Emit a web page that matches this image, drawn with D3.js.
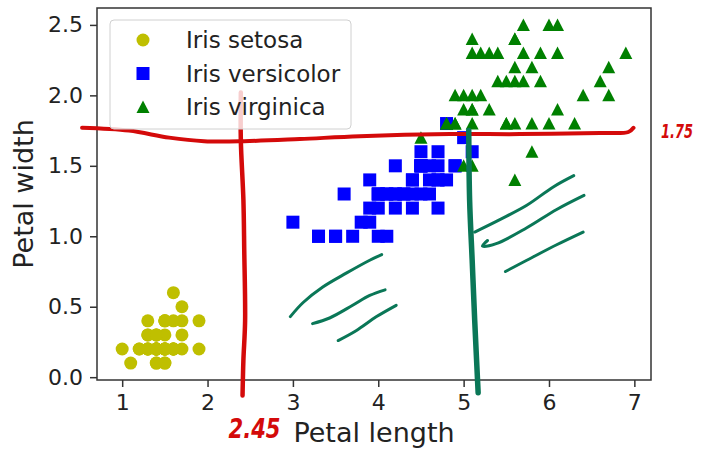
<!DOCTYPE html>
<html>
<head>
<meta charset="utf-8">
<script src="https://cdn.jsdelivr.net/npm/d3@7"></script>
<style>
  body { margin: 0; background: #fff; }
  text { font-family: "DejaVu Sans", sans-serif; }
</style>
</head>
<body>
<div id="chart"></div>
<script>
// petal [length, width] for each species (iris dataset)
var setosa = [[1.4,0.2],[1.4,0.2],[1.3,0.2],[1.5,0.2],[1.4,0.2],[1.7,0.4],[1.4,0.3],[1.5,0.2],[1.4,0.2],[1.5,0.1],
  [1.5,0.2],[1.6,0.2],[1.4,0.1],[1.1,0.1],[1.2,0.2],[1.5,0.4],[1.3,0.4],[1.4,0.3],[1.7,0.3],[1.5,0.3],
  [1.7,0.2],[1.5,0.4],[1.0,0.2],[1.7,0.5],[1.9,0.2],[1.6,0.2],[1.6,0.4],[1.5,0.2],[1.4,0.2],[1.6,0.2],
  [1.6,0.2],[1.5,0.4],[1.5,0.1],[1.4,0.2],[1.5,0.2],[1.2,0.2],[1.3,0.2],[1.4,0.1],[1.3,0.2],[1.5,0.2],
  [1.3,0.3],[1.3,0.3],[1.3,0.2],[1.6,0.6],[1.9,0.4],[1.4,0.3],[1.6,0.2],[1.4,0.2],[1.5,0.2],[1.4,0.2]];
var versicolor = [[4.7,1.4],[4.5,1.5],[4.9,1.5],[4.0,1.3],[4.6,1.5],[4.5,1.3],[4.7,1.6],[3.3,1.0],[4.6,1.3],[3.9,1.4],
  [3.5,1.0],[4.2,1.5],[4.0,1.0],[4.7,1.4],[3.6,1.3],[4.4,1.4],[4.5,1.5],[4.1,1.0],[4.5,1.5],[3.9,1.1],
  [4.8,1.8],[4.0,1.3],[4.9,1.5],[4.7,1.2],[4.3,1.3],[4.4,1.4],[4.8,1.4],[5.0,1.7],[4.5,1.5],[3.5,1.0],
  [3.8,1.1],[3.7,1.0],[3.9,1.2],[5.1,1.6],[4.5,1.5],[4.5,1.6],[4.7,1.5],[4.4,1.3],[4.1,1.3],[4.0,1.3],
  [4.4,1.2],[4.6,1.4],[4.0,1.2],[3.3,1.0],[4.2,1.3],[4.2,1.2],[4.2,1.3],[4.3,1.3],[3.0,1.1],[4.1,1.3]];
var virginica = [[6.0,2.5],[5.1,1.9],[5.9,2.1],[5.6,1.8],[5.8,2.2],[6.6,2.1],[4.5,1.7],[6.3,1.8],[5.8,1.8],[6.1,2.5],
  [5.1,2.0],[5.3,1.9],[5.5,2.1],[5.0,2.0],[5.1,2.4],[5.3,2.3],[5.5,1.8],[6.7,2.2],[6.9,2.3],[5.0,1.5],
  [5.7,2.3],[4.9,2.0],[6.7,2.0],[4.9,1.8],[5.7,2.1],[6.0,1.8],[4.8,1.8],[4.9,1.8],[5.6,2.1],[5.8,1.6],
  [6.1,1.9],[6.4,2.0],[5.6,2.2],[5.1,1.5],[5.6,1.4],[6.1,2.3],[5.6,2.4],[5.5,1.8],[4.8,1.8],[5.4,2.1],
  [5.6,2.4],[5.1,2.3],[5.1,1.9],[5.9,2.3],[5.7,2.5],[5.2,2.3],[5.0,1.9],[5.2,2.0],[5.4,2.3],[5.1,1.8]];

var speciesNames = ["Iris setosa", "Iris versicolor", "Iris virginica"];
var xTicks = [1, 2, 3, 4, 5, 6, 7];
var yTicks = [0.0, 0.5, 1.0, 1.5, 2.0, 2.5];

// hand-drawn annotations, in data units (petal length, petal width)
var redHorizontal = [[0.53,1.77],[1.08,1.75],[1.55,1.70],[1.96,1.675],[2.43,1.675],[3.08,1.69],[3.78,1.71],
  [4.84,1.725],[5.66,1.725],[6.60,1.733],[6.93,1.74],[6.99,1.77]];
var redVertical = [[2.39,2.02],[2.39,1.68],[2.42,1.26],[2.43,0.90],[2.44,0.40],[2.42,0.12],[2.41,-0.13]];
var greenVertical = [[5.06,1.75],[5.07,1.26],[5.10,0.83],[5.13,0.40],[5.17,-0.11]];
var greenHatch = [
  [[2.97,0.43],[3.12,0.53],[3.35,0.64],[3.63,0.74],[3.90,0.83],[4.04,0.87]],
  [[3.23,0.38],[3.43,0.42],[3.70,0.51],[3.90,0.58],[4.08,0.62]],
  [[3.53,0.26],[3.74,0.33],[3.98,0.43],[4.21,0.51]],
  [[5.13,1.03],[5.43,1.12],[5.74,1.22],[6.05,1.35],[6.29,1.43]],
  [[5.28,0.97],[5.22,0.93],[5.39,0.95],[5.74,1.06],[6.09,1.19],[6.41,1.29]],
  [[5.49,0.75],[5.74,0.83],[6.09,0.94],[6.40,1.03]]
];
var notes = [{text: "1.75", x: 7.50, y: 1.70, size: 20, len: 32}, {text: "2.45", x: 2.55, y: -0.43, size: 26, len: 52}];

var width = 710, height = 451;
var margin = {top: 8, right: 59, bottom: 71, left: 97};
var w = width - margin.left - margin.right,
    h = height - margin.top - margin.bottom;

var svg = d3.select("#chart").append("svg")
    .attr("width", width)
    .attr("height", height);

var g = svg.append("g")
    .attr("transform", "translate(" + margin.left + "," + margin.top + ")");

var x = d3.scaleLinear().domain([0.705, 7.195]).range([0, w]);
var y = d3.scaleLinear().domain([-0.02, 2.62]).range([h, 0]);

// axes
var xAxis = g.append("g")
    .attr("transform", "translate(0," + h + ")")
    .call(d3.axisBottom(x).tickValues(xTicks).tickFormat(d3.format("d")).tickSize(7).tickPadding(7));
var yAxis = g.append("g")
    .call(d3.axisLeft(y).tickValues(yTicks).tickFormat(d3.format(".1f")).tickSize(7).tickPadding(7));

[xAxis, yAxis].forEach(function(ax) {
    ax.select(".domain").remove();
    ax.selectAll("line").attr("stroke", "#333").attr("stroke-width", 1.5);
    ax.selectAll("text").attr("font-size", 22).attr("fill", "#222")
        .attr("font-family", "DejaVu Sans, sans-serif");
});

// points
g.selectAll(".setosa").data(setosa).enter().append("circle")
    .attr("cx", function(d) { return x(d[0]); })
    .attr("cy", function(d) { return y(d[1]); })
    .attr("r", 6.5)
    .attr("fill", "#bfbf00");

var sq = 13;
g.selectAll(".versicolor").data(versicolor).enter().append("rect")
    .attr("x", function(d) { return x(d[0]) - sq / 2; })
    .attr("y", function(d) { return y(d[1]) - sq / 2; })
    .attr("width", sq)
    .attr("height", sq)
    .attr("fill", "#0000ff");

var tri = "M0,-6.5L6.5,6L-6.5,6Z";
g.selectAll(".virginica").data(virginica).enter().append("path")
    .attr("d", tri)
    .attr("transform", function(d) { return "translate(" + x(d[0]) + "," + y(d[1]) + ")"; })
    .attr("fill", "#008000");

// frame
g.append("rect")
    .attr("width", w).attr("height", h)
    .attr("fill", "none")
    .attr("stroke", "#333")
    .attr("stroke-width", 1.5);

// legend
var legend = svg.append("g").attr("transform", "translate(110,20)");
legend.append("rect")
    .attr("width", 241).attr("height", 109)
    .attr("rx", 4)
    .attr("fill", "#fff").attr("fill-opacity", 0.8)
    .attr("stroke", "#d0d0d0");
var rows = legend.selectAll(".row").data(speciesNames).enter().append("g")
    .attr("transform", function(d, i) { return "translate(33," + (20 + i * 33.5) + ")"; });
rows.each(function(d, i) {
    var r = d3.select(this);
    if (i == 0) r.append("circle").attr("r", 6.5).attr("fill", "#bfbf00");
    if (i == 1) r.append("rect").attr("x", -sq / 2).attr("y", -sq / 2).attr("width", sq).attr("height", sq).attr("fill", "#0000ff");
    if (i == 2) r.append("path").attr("d", tri).attr("fill", "#008000");
});
rows.append("text")
    .attr("x", 43).attr("y", 8)
    .attr("font-size", 23)
    .attr("fill", "#222")
    .text(function(d) { return d; });

// axis labels
svg.append("text")
    .attr("x", margin.left + w / 2).attr("y", 442)
    .attr("text-anchor", "middle")
    .attr("font-size", 27).attr("fill", "#222")
    .text("Petal length");
svg.append("text")
    .attr("transform", "translate(33," + (margin.top + h / 2) + ") rotate(-90)")
    .attr("text-anchor", "middle")
    .attr("font-size", 27).attr("fill", "#222")
    .text("Petal width");

// annotations drawn over the chart
var line = d3.line()
    .x(function(d) { return x(d[0]); })
    .y(function(d) { return y(d[1]); })
    .curve(d3.curveCatmullRom);

var red = "#d40a0a", green = "#0a7757";

g.append("path").datum(redHorizontal)
    .attr("d", line).attr("fill", "none")
    .attr("stroke", red).attr("stroke-width", 4).attr("stroke-linecap", "round");
g.append("path").datum(redVertical)
    .attr("d", line).attr("fill", "none")
    .attr("stroke", red).attr("stroke-width", 4.5).attr("stroke-linecap", "round");
g.append("path").datum(greenVertical)
    .attr("d", line).attr("fill", "none")
    .attr("stroke", green).attr("stroke-width", 5.5).attr("stroke-linecap", "round");
g.selectAll(".hatch").data(greenHatch).enter().append("path")
    .attr("d", line).attr("fill", "none")
    .attr("stroke", green).attr("stroke-width", 3).attr("stroke-linecap", "round")
    .attr("stroke-linejoin", "round");

g.selectAll(".note").data(notes).enter().append("text")
    .attr("x", function(d) { return x(d.x); })
    .attr("y", function(d) { return y(d.y); })
    .attr("text-anchor", "middle")
    .attr("font-family", "DejaVu Serif, serif")
    .attr("font-style", "italic")
    .attr("font-weight", "bold")
    .attr("font-size", function(d) { return d.size; })
    .attr("textLength", function(d) { return d.len; })
    .attr("lengthAdjust", "spacingAndGlyphs")
    .attr("fill", red)
    .text(function(d) { return d.text; });
</script>
</body>
</html>
